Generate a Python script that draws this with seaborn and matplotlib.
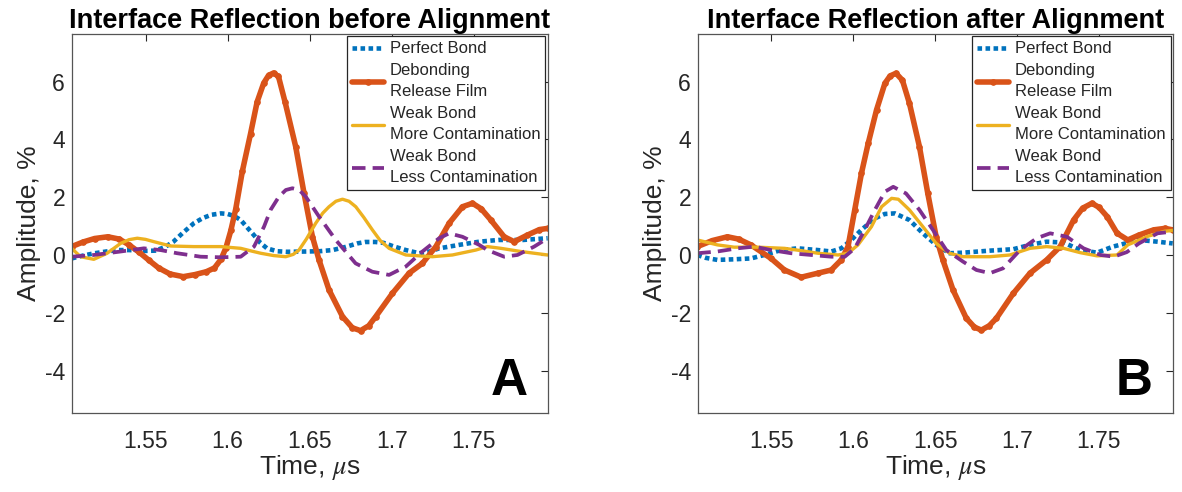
import numpy as np
import pandas as pd
import matplotlib
matplotlib.use("Agg")
import matplotlib.pyplot as plt
import seaborn as sns

# ---------------- data ----------------
# Panel A: before alignment
tA_perfect = [1.505, 1.512, 1.519, 1.526, 1.533, 1.540, 1.549, 1.556, 1.562, 1.567, 1.573, 1.5795, 1.585, 1.590,
              1.596, 1.600, 1.604, 1.608, 1.612, 1.616, 1.620, 1.624, 1.630, 1.636, 1.648, 1.656, 1.664, 1.672,
              1.679, 1.684, 1.690, 1.695, 1.701, 1.7086, 1.7167, 1.723, 1.729, 1.7411, 1.7533, 1.765, 1.780, 1.795]
yA_perfect = [-0.12, -0.02, 0.06, 0.12, 0.17, 0.17, 0.14, 0.15, 0.28, 0.46, 0.78, 1.10, 1.28, 1.39,
              1.44, 1.42, 1.35, 1.21, 0.95, 0.69, 0.42, 0.23, 0.13, 0.11, 0.12, 0.13, 0.17, 0.28,
              0.40, 0.45, 0.45, 0.42, 0.30, 0.17, 0.06, 0.12, 0.23, 0.35, 0.46, 0.52, 0.52, 0.58]

tA_debond = [1.505, 1.512, 1.519, 1.527, 1.534, 1.540, 1.546, 1.552, 1.558, 1.565, 1.573, 1.580, 1.587, 1.592,
             1.596, 1.599, 1.602, 1.605, 1.609, 1.614, 1.618, 1.622, 1.625, 1.628, 1.631, 1.635, 1.6415, 1.6466,
             1.6517, 1.6557, 1.6618, 1.670, 1.676, 1.681, 1.686, 1.6903, 1.7004, 1.7106, 1.7187, 1.7269, 1.735,
             1.7431, 1.7492, 1.7545, 1.7604, 1.7685, 1.7746, 1.7827, 1.790, 1.795]
yA_debond = [0.29, 0.45, 0.57, 0.63, 0.55, 0.35, 0.10, -0.18, -0.45, -0.66, -0.75, -0.68, -0.58, -0.45,
             -0.15, 0.25, 0.85, 1.60, 2.90, 4.20, 5.30, 5.95, 6.22, 6.30, 6.18, 5.30, 3.75, 2.13,
             0.63, -0.17, -1.21, -2.13, -2.52, -2.62, -2.45, -2.13, -1.33, -0.63, -0.29, 0.29, 1.10,
             1.67, 1.79, 1.60, 1.21, 0.63, 0.46, 0.69, 0.88, 0.92]

tA_more = [1.505, 1.5104, 1.5185, 1.5266, 1.5348, 1.540, 1.545, 1.550, 1.5551, 1.5653, 1.5795, 1.5958, 1.608,
           1.615, 1.6202, 1.628, 1.6354, 1.640, 1.6435, 1.648, 1.6537, 1.658, 1.6618, 1.666, 1.670, 1.674,
           1.6781, 1.683, 1.6882, 1.693, 1.6984, 1.7086, 1.7248, 1.737, 1.7512, 1.7583, 1.7665, 1.7787, 1.795]
yA_more = [0.23, -0.06, -0.15, 0.06, 0.40, 0.53, 0.58, 0.54, 0.46, 0.31, 0.29, 0.29, 0.23,
           0.13, 0.06, -0.02, -0.06, 0.02, 0.17, 0.55, 1.10, 1.45, 1.67, 1.86, 1.93, 1.86,
           1.67, 1.30, 0.87, 0.50, 0.23, 0.00, -0.06, 0.00, 0.17, 0.29, 0.23, 0.12, 0.00]

tA_less = [1.505, 1.5185, 1.5348, 1.549, 1.5592, 1.5693, 1.5836, 1.5958, 1.608, 1.6161, 1.6222, 1.6262, 1.6313,
           1.6355, 1.6395, 1.6436, 1.6476, 1.6557, 1.6659, 1.678, 1.6882, 1.6984, 1.7086, 1.7187, 1.7289,
           1.735, 1.7431, 1.7533, 1.7583, 1.7685, 1.7766, 1.7868, 1.795]
yA_less = [-0.06, 0.00, 0.12, 0.23, 0.17, 0.06, -0.06, -0.08, -0.06, 0.29, 0.98, 1.56, 2.02,
           2.25, 2.31, 2.25, 2.02, 1.33, 0.52, -0.29, -0.58, -0.69, -0.40, 0.12, 0.58,
           0.75, 0.63, 0.35, 0.17, -0.06, 0.00, 0.29, 0.58]

# Panel B: after alignment
tB_perfect = [1.5048, 1.510, 1.517, 1.5273, 1.5375, 1.5457, 1.5559, 1.5661, 1.5784, 1.5866, 1.5927, 1.5988,
              1.605, 1.6132, 1.6193, 1.6254, 1.6343, 1.6425, 1.6506, 1.6588, 1.667, 1.6834, 1.6977, 1.7079,
              1.7181, 1.7284, 1.7386, 1.7488, 1.7586, 1.7744, 1.7857, 1.795]
yB_perfect = [0.00, -0.10, -0.17, -0.15, -0.12, 0.00, 0.17, 0.23, 0.17, 0.12, 0.23, 0.52,
              0.87, 1.27, 1.42, 1.44, 1.21, 0.75, 0.35, 0.06, 0.08, 0.15, 0.20, 0.35,
              0.46, 0.43, 0.17, 0.08, 0.29, 0.52, 0.46, 0.40]

tB_debond = [1.5048, 1.514, 1.5232, 1.530, 1.5375, 1.5498, 1.558, 1.5682, 1.5784, 1.5866, 1.5927, 1.5968,
             1.6009, 1.605, 1.6091, 1.6142, 1.6193, 1.6225, 1.6261, 1.630, 1.6343, 1.6404, 1.6455, 1.6506,
             1.6547, 1.6609, 1.669, 1.674, 1.6782, 1.683, 1.6874, 1.6977, 1.7079, 1.7181, 1.7263, 1.7345,
             1.740, 1.7457, 1.750, 1.755, 1.7611, 1.7676, 1.7744, 1.7834, 1.7902, 1.795]
yB_debond = [0.29, 0.50, 0.63, 0.55, 0.35, -0.12, -0.52, -0.77, -0.63, -0.52, -0.17, 0.29,
             1.56, 2.83, 3.86, 5.02, 5.94, 6.20, 6.29, 6.05, 5.25, 3.75, 2.13, 0.63,
             -0.17, -1.21, -2.19, -2.50, -2.60, -2.45, -2.19, -1.33, -0.63, -0.17, 0.29, 1.21,
             1.62, 1.79, 1.65, 1.33, 0.75, 0.52, 0.69, 0.87, 0.92, 0.87]

tB_more = [1.5048, 1.517, 1.5273, 1.5416, 1.558, 1.5682, 1.5784, 1.5907, 1.5968, 1.6029, 1.6111, 1.6173,
           1.6234, 1.6275, 1.6343, 1.6425, 1.6506, 1.6588, 1.667, 1.6834, 1.6956, 1.7079, 1.7181, 1.7284,
           1.7386, 1.7488, 1.7611, 1.7676, 1.780, 1.790, 1.795]
yB_more = [0.52, 0.35, 0.27, 0.27, 0.23, 0.15, 0.06, 0.00, 0.06, 0.35, 0.98, 1.67,
           1.96, 1.93, 1.56, 0.98, 0.40, 0.06, -0.06, -0.06, 0.00, 0.23, 0.29, 0.23,
           0.08, -0.03, 0.00, 0.35, 0.65, 0.82, 0.85]

tB_less = [1.5048, 1.517, 1.5293, 1.5396, 1.5498, 1.5621, 1.5743, 1.5866, 1.5948, 1.6009, 1.607, 1.6132,
           1.6193, 1.6244, 1.6322, 1.6404, 1.6486, 1.6568, 1.667, 1.6752, 1.6834, 1.6915, 1.7018, 1.712,
           1.7202, 1.7304, 1.7406, 1.7509, 1.7591, 1.767, 1.7744, 1.7857, 1.795]
yB_less = [0.06, 0.12, 0.23, 0.29, 0.17, 0.06, 0.00, -0.06, -0.06, 0.23, 0.87, 1.56,
           2.19, 2.36, 2.13, 1.56, 0.87, 0.17, -0.23, -0.52, -0.63, -0.46, 0.17, 0.58,
           0.75, 0.63, 0.23, 0.00, -0.06, 0.10, 0.40, 0.75, 0.81]

labels = ["Perfect Bond", "Debonding\nRelease Film", "Weak Bond\nMore Contamination", "Weak Bond\nLess Contamination"]
titles = ["Interface Reflection before Alignment", "Interface Reflection after Alignment"]
panel_letters = ["A", "B"]
xticks = [1.55, 1.60, 1.65, 1.70, 1.75]
xticklabels = ["1.55", "1.6", "1.65", "1.7", "1.75"]
yticks = [-4, -2, 0, 2, 4, 6]
yticklabels = ["-4", "-2", "0", "2", "4", "6"]

# ---------------- style ----------------
sns.set_style("white")
plt.rcParams["font.family"] = ["Liberation Sans", "DejaVu Sans"]
plt.rcParams["axes.unicode_minus"] = False
plt.rcParams["mathtext.fontset"] = "stix"

C_BLUE = "#0072BD"
C_ORANGE = "#D95319"
C_YELLOW = "#EDB120"
C_PURPLE = "#7E2F8E"
AX_COL = "#262626"

fig = plt.figure(figsize=(11.82, 4.92), dpi=100)
axA = fig.add_axes([0.0609, 0.1606, 0.4027, 0.7703])
axB = fig.add_axes([0.5905, 0.1606, 0.4019, 0.7703])

panels = [
    (axA, [(tA_perfect, yA_perfect), (tA_debond, yA_debond), (tA_more, yA_more), (tA_less, yA_less)]),
    (axB, [(tB_perfect, yB_perfect), (tB_debond, yB_debond), (tB_more, yB_more), (tB_less, yB_less)]),
]

for i, (ax, series) in enumerate(panels):
    (tp, yp), (td, yd), (tm, ym), (tl, yl) = series
    sns.lineplot(x=tp, y=yp, ax=ax, color=C_BLUE, linewidth=3.3,
                 linestyle=(0, (1.0, 0.75)), label=labels[0], dash_capstyle="butt")
    sns.lineplot(x=td, y=yd, ax=ax, color=C_ORANGE, linewidth=4.0, marker="o", markersize=4.0,
                 markeredgecolor=C_ORANGE, markerfacecolor=C_ORANGE, label=labels[1])
    sns.lineplot(x=tm, y=ym, ax=ax, color=C_YELLOW, linewidth=2.4, label=labels[2])
    sns.lineplot(x=tl, y=yl, ax=ax, color=C_PURPLE, linewidth=2.7,
                 linestyle=(0, (3.6, 1.9)), label=labels[3], dash_capstyle="butt")

    ax.set_xlim(1.5052, 1.7952)
    ax.set_ylim(-5.47, 7.65)
    ax.set_xticks(xticks)
    ax.set_xticklabels(xticklabels)
    ax.set_yticks(yticks)
    ax.set_yticklabels(yticklabels)
    ax.tick_params(axis="both", direction="in", top=True, right=True, length=5, width=0.8,
                   color=AX_COL, labelcolor=AX_COL, labelsize=16.5)
    ax.tick_params(axis="x", pad=12)
    ax.tick_params(axis="y", pad=5)
    for sp in ax.spines.values():
        sp.set_color("#555555")
        sp.set_linewidth(0.9)
    ax.set_xlabel(r"Time, $\mu$s", fontsize=19, color=AX_COL, labelpad=0)
    ax.set_ylabel("Amplitude, %", fontsize=19, color=AX_COL, labelpad=3)
    ax.set_title(titles[i], fontsize=19.5, fontweight="bold", color="black", pad=4)
    ax.text(0.958, 0.047, panel_letters[i], transform=ax.transAxes, ha="right", va="baseline",
            fontsize=37, fontweight="bold", color="black")

    leg = ax.legend(loc="upper right", fontsize=12, frameon=True, fancybox=False,
                    edgecolor=AX_COL, framealpha=1, borderaxespad=0.15, labelspacing=0.42,
                    handlelength=1.9, handletextpad=0.35, borderpad=0.3, numpoints=1)
    leg.get_frame().set_linewidth(0.9)
    for txt in leg.get_texts():
        txt.set_color(AX_COL)
        txt.set_linespacing(1.5)

fig.savefig("out.png", dpi=100)
